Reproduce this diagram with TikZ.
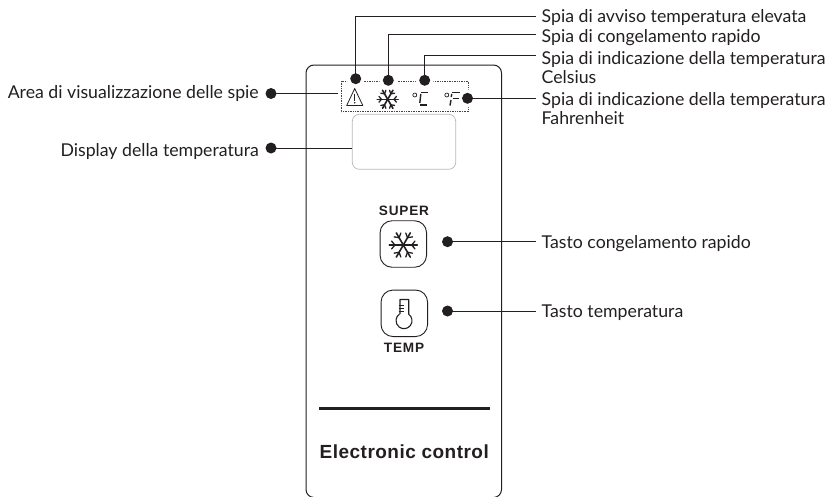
\documentclass[tikz,border=0pt]{standalone}
\usepackage{fontspec}
\setmainfont{Lato}
\newfontfamily\panelfont{Liberation Sans}[LetterSpace=6]
\newfontfamily\brandfont{Liberation Sans}[LetterSpace=2.5]
\definecolor{ink}{HTML}{231F20}
\newcommand\snowicon[5]{% x,y,R,width,forkwidth
  \foreach \a in {0,60,120,180,240,300}{
    \draw[draw=ink,line width=#4,line cap=round] (#1,#2) -- ++(\a:#3);
    \draw[draw=ink,line width=#5,line cap=round]
      (#1,#2) ++(\a:0.6*#3) -- ++(\a+50:0.36*#3)
      (#1,#2) ++(\a:0.6*#3) -- ++(\a-50:0.36*#3);
  }}
\tikzset{
  x=1pt,y=-1pt,
  lead/.style={draw=ink,line width=0.9pt},
  pin/.style={circle,fill=ink,draw=none,minimum size=11pt,inner sep=0pt},
  halo/.style={circle,fill=white,draw=none,minimum size=18pt,inner sep=0pt},
  lbl/.style={anchor=base west,inner sep=0pt,text=ink,font=\fontsize{17.7}{18.5}\selectfont,align=left},
  lbr/.style={anchor=base east,inner sep=0pt,text=ink,font=\fontsize{17.7}{18.5}\selectfont},
  btn/.style={draw=ink,line width=0.9pt,rounded corners=12pt,minimum size=46.5pt,inner sep=0pt},
  ptxt/.style={inner sep=0pt,text=ink,font=\panelfont\bfseries\fontsize{13.6}{15}\selectfont},
  seg/.style={draw=ink,line width=1.4pt},
  deg/.style={draw=ink,line width=0.7pt}
}
\begin{document}
\begin{tikzpicture}
\useasboundingbox (0,0) rectangle (834,496);
% panel
\begin{scope}
\clip (0,0) rectangle (834,496);
\draw[draw=ink,line width=1pt,rounded corners=8pt] (306,65) rectangle (501.5,497.5);
\end{scope}
% indicator area
\draw[draw=ink!85,line width=0.7pt,densely dotted] (341.3,81) rectangle (468.3,111.7);
\node[halo] at (355.7,78.7) {};
\node[halo] at (388.3,80.3) {};
\node[halo] at (424.7,80.3) {};
\node[halo] at (467.5,98.3) {};
\node[draw=black!28,line width=0.7pt,rounded corners=7pt,minimum width=103.4pt,minimum height=55pt,inner sep=0pt] (disp) at (404,141.8) {};
% warning icon
\draw[draw=ink,line width=0.8pt,line join=round] (354.7,88.5) -- (362.8,105.5) -- (346.7,105.5) -- cycle;
\draw[draw=ink,line width=1.5pt] (354.7,93.5) -- (354.7,100.5);
\fill[ink] (354.7,102.8) circle (0.9);
% small snowflake
\snowicon{387.7}{99.3}{10.5}{1.6pt}{1.3pt}
% degree C and F
\draw[deg] (414.8,95) circle (2);
\draw[seg] (421,92.6) -- (428.3,92.6);
\draw[seg] (420.8,94) -- (419.8,103);
\draw[seg] (420,104.8) -- (427.3,104.8);
\draw[deg] (446.8,95) circle (2);
\draw[seg] (452,92.6) -- (460,92.6);
\draw[seg] (451.8,94) -- (451.2,97);
\draw[seg] (451,100) -- (450,105.5);
\draw[seg] (452.5,98.5) -- (459,98.5);
% buttons
\node[ptxt] (super) at (404,210.7) {SUPER};
\node[btn] (bsuper) at (403.3,244) {};
\snowicon{403.3}{245}{14}{1.6pt}{1.3pt}
\node[btn] (btemp) at (404.3,313.3) {};
\node[ptxt] (temp) at (404,347.7) {TEMP};
% thermometer
\draw[draw=ink,line width=1.1pt,line join=round] (400,314.2) -- (400,299.5) -- (408.7,299.5) -- (408.7,314.2) arc[start angle=54,end angle=-234,radius=8pt];
\foreach \t in {305.3,308.3,311.3}{\draw[draw=ink,line width=1.4pt] (398.5,\t) -- (403.5,\t);}
% bottom
\draw[draw=ink,line width=3pt] (319,408.3) -- (490,408.3);
\node[inner sep=0pt,text=ink,font=\brandfont\bfseries\fontsize{19}{21}\selectfont] (ec) at (404.3,452) {Electronic control};
% labels
\node[lbl] (t1) at (541.5,22.5) {Spia di avviso temperatura elevata};
\node[lbl] (t2) at (541.5,42) {Spia di congelamento rapido};
\node[lbl] (t3) at (541.5,83) {Spia di indicazione della temperatura\\Celsius};
\node[lbl] (t4) at (541.5,124) {Spia di indicazione della temperatura\\Fahrenheit};
\node[lbl] (t5) at (541.5,248) {Tasto congelamento rapido};
\node[lbl] (t6) at (541.5,317) {Tasto temperatura};
\node[lbr] (t7) at (259,98) {Area di visualizzazione delle spie};
\node[lbr] (t8) at (259,156) {Display della temperatura};
% pins
\node[pin] (d1) at (355.7,78.7) {};
\node[pin] (d2) at (388.3,80.3) {};
\node[pin] (d3) at (424.7,80.3) {};
\node[pin] (d4) at (467.5,98.3) {};
\node[pin] (d5) at (447.5,241.7) {};
\node[pin] (d6) at (447.5,311) {};
\node[pin] (d7) at (271,93.5) {};
\node[pin] (d8) at (271,148) {};
% free ends
\coordinate (e1) at (536,16);
\coordinate (e2) at (536,34.5);
\coordinate (e3) at (536,55.7);
\coordinate (e4) at (536,98.3);
\coordinate (e5) at (536,241.7);
\coordinate (e6) at (536,311);
\coordinate (e7) at (338,93.5);
\coordinate (e8) at (352.3,148);
\draw[lead] (d1.center) |- (e1);
\draw[lead] (d2.center) |- (e2);
\draw[lead] (d3.center) |- (e3);
\draw[lead] (d4.center) -- (e4);
\draw[lead] (d5.center) -- (e5);
\draw[lead] (d6.center) -- (e6);
\draw[lead] (d7.center) -- (e7);
\draw[lead] (d8.center) -- (e8);
\end{tikzpicture}
\end{document}
